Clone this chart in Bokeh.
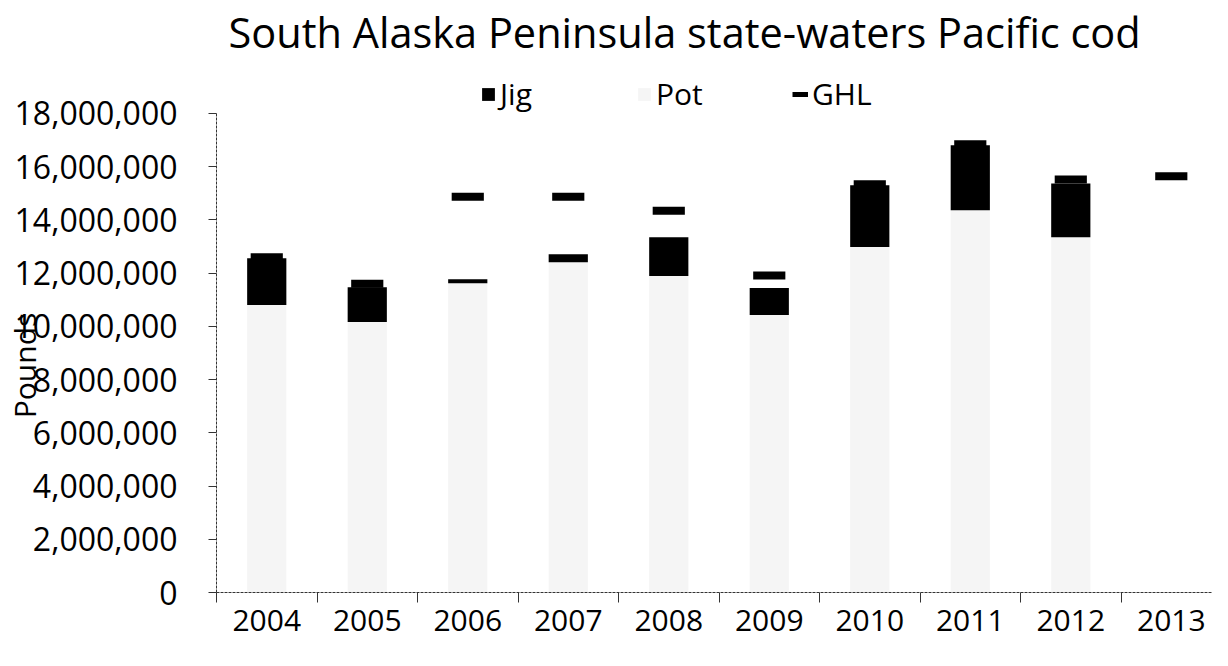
from bokeh.plotting import figure
from bokeh.models import (ColumnDataSource, FixedTicker, Range1d, Legend, LegendItem,
                          NumeralTickFormatter)
from bokeh.embed import file_html
from bokeh.resources import INLINE

# ---- data (pounds) ----
years = ["2004", "2005", "2006", "2007", "2008", "2009", "2010", "2011", "2012", "2013"]
pot = [10.80e6, 10.16e6, 11.62e6, 12.41e6, 11.89e6, 10.43e6, 12.98e6, 14.36e6, 13.35e6, 0]
jig = [1.76e6, 1.31e6, 0.15e6, 0.30e6, 1.46e6, 1.01e6, 2.32e6, 2.44e6, 2.02e6, 0]
ghl = [12.60e6, 11.60e6, 14.87e6, 14.87e6, 14.34e6, 11.91e6, 15.34e6, 16.84e6, 15.52e6, 15.64e6]
y_ticks = [0, 2e6, 4e6, 6e6, 8e6, 10e6, 12e6, 14e6, 16e6, 18e6]
y_axis_max = 18e6

FONT = "Open Sans"
POT_COLOR = "#f5f5f5"
JIG_COLOR = "#000000"

xs = list(range(len(years)))
source = ColumnDataSource(dict(x=xs, pot=pot, jig=jig, ghl=ghl,
                               legend_only=[float("nan")] * len(xs)))

# frame spans page y 67..600; the axis itself stops at 18,000,000 (page y 120)
FRAME_TOP, AXIS_TOP, FRAME_BOTTOM = 67, 120, 600
y_end = y_axis_max * (FRAME_BOTTOM - FRAME_TOP) / (FRAME_BOTTOM - AXIS_TOP)

p = figure(width=1212, height=650,
           x_range=Range1d(-0.5, 9.41), y_range=Range1d(0, y_end),
           output_backend="svg", toolbar_location=None,
           min_border_left=210, min_border_right=0,
           min_border_top=59, min_border_bottom=58)

p.outline_line_color = None
p.xgrid.grid_line_color = None
p.ygrid.grid_line_color = None
p.background_fill_color = "white"
p.border_fill_color = "white"

# title
p.title.text = "South Alaska Peninsula state-waters Pacific cod"
p.title.text_font = FONT
p.title.text_font_size = "41.5px"
p.title.text_font_style = "normal"
p.title.text_color = "black"
p.title.align = "left"
p.title.offset = 12
p.title.standoff = 2

# stacked bars
bars = p.vbar_stack(["pot", "jig"], x="x", width=0.39, source=source,
                    fill_color=[POT_COLOR, JIG_COLOR], line_color=None)

# GHL dashes
p.rect(x="x", y="ghl", width=0.32, height=8, height_units="screen",
       source=source, fill_color="black", line_color=None)

# line renderer with no drawable points, used only for the GHL legend glyph
ghl_leg = p.line(x="x", y="legend_only", source=source, line_color="black", line_width=5)

legend = Legend(items=[LegendItem(label="Jig", renderers=[bars[1]]),
                       LegendItem(label="Pot", renderers=[bars[0]]),
                       LegendItem(label="GHL", renderers=[ghl_leg])],
                orientation="horizontal", location=(264, FRAME_BOTTOM - 122),
                label_text_font=FONT, label_text_font_size="30px",
                label_text_color="black",
                glyph_width=16, glyph_height=16, label_standoff=4,
                label_width=136, spacing=0, padding=0, margin=0,
                border_line_color=None, background_fill_alpha=0)
p.add_layout(legend)

# y axis
ya = p.yaxis[0]
ya.bounds = (0, y_axis_max)
ya.ticker = FixedTicker(ticks=y_ticks)
ya.formatter = NumeralTickFormatter(format="0,0")
ya.major_label_text_font = FONT
ya.major_label_text_font_size = "32px"
ya.major_label_text_color = "black"
ya.major_tick_out = 8
ya.major_tick_in = 0
ya.minor_tick_line_color = None
ya.major_label_standoff = 31
ya.axis_line_color = "#333333"
ya.axis_line_dash = "3 1"
ya.major_tick_line_color = "#333333"
ya.axis_label = "Pounds" + "\u00a0" * 10
ya.axis_label_text_font = FONT
ya.axis_label_text_font_size = "30px"
ya.axis_label_text_font_style = "normal"
ya.axis_label_text_color = "black"
ya.axis_label_standoff = -33

# x axis
xa = p.xaxis[0]
xa.ticker = FixedTicker(ticks=xs, minor_ticks=[i - 0.5 for i in range(len(years) + 1)])
xa.major_label_overrides = {i: y for i, y in zip(xs, years)}
xa.major_tick_line_color = None
xa.major_tick_out = 0
xa.major_tick_in = 0
xa.minor_tick_line_color = "#333333"
xa.minor_tick_out = 10
xa.minor_tick_in = 0
xa.major_label_standoff = 7
xa.major_label_text_font = FONT
xa.major_label_text_font_size = "30px"
xa.major_label_text_color = "black"
xa.axis_line_color = "#333333"
xa.axis_line_dash = "3 1"

with open("out.html", "w", encoding="utf-8") as f:
    f.write(file_html(p, INLINE))
